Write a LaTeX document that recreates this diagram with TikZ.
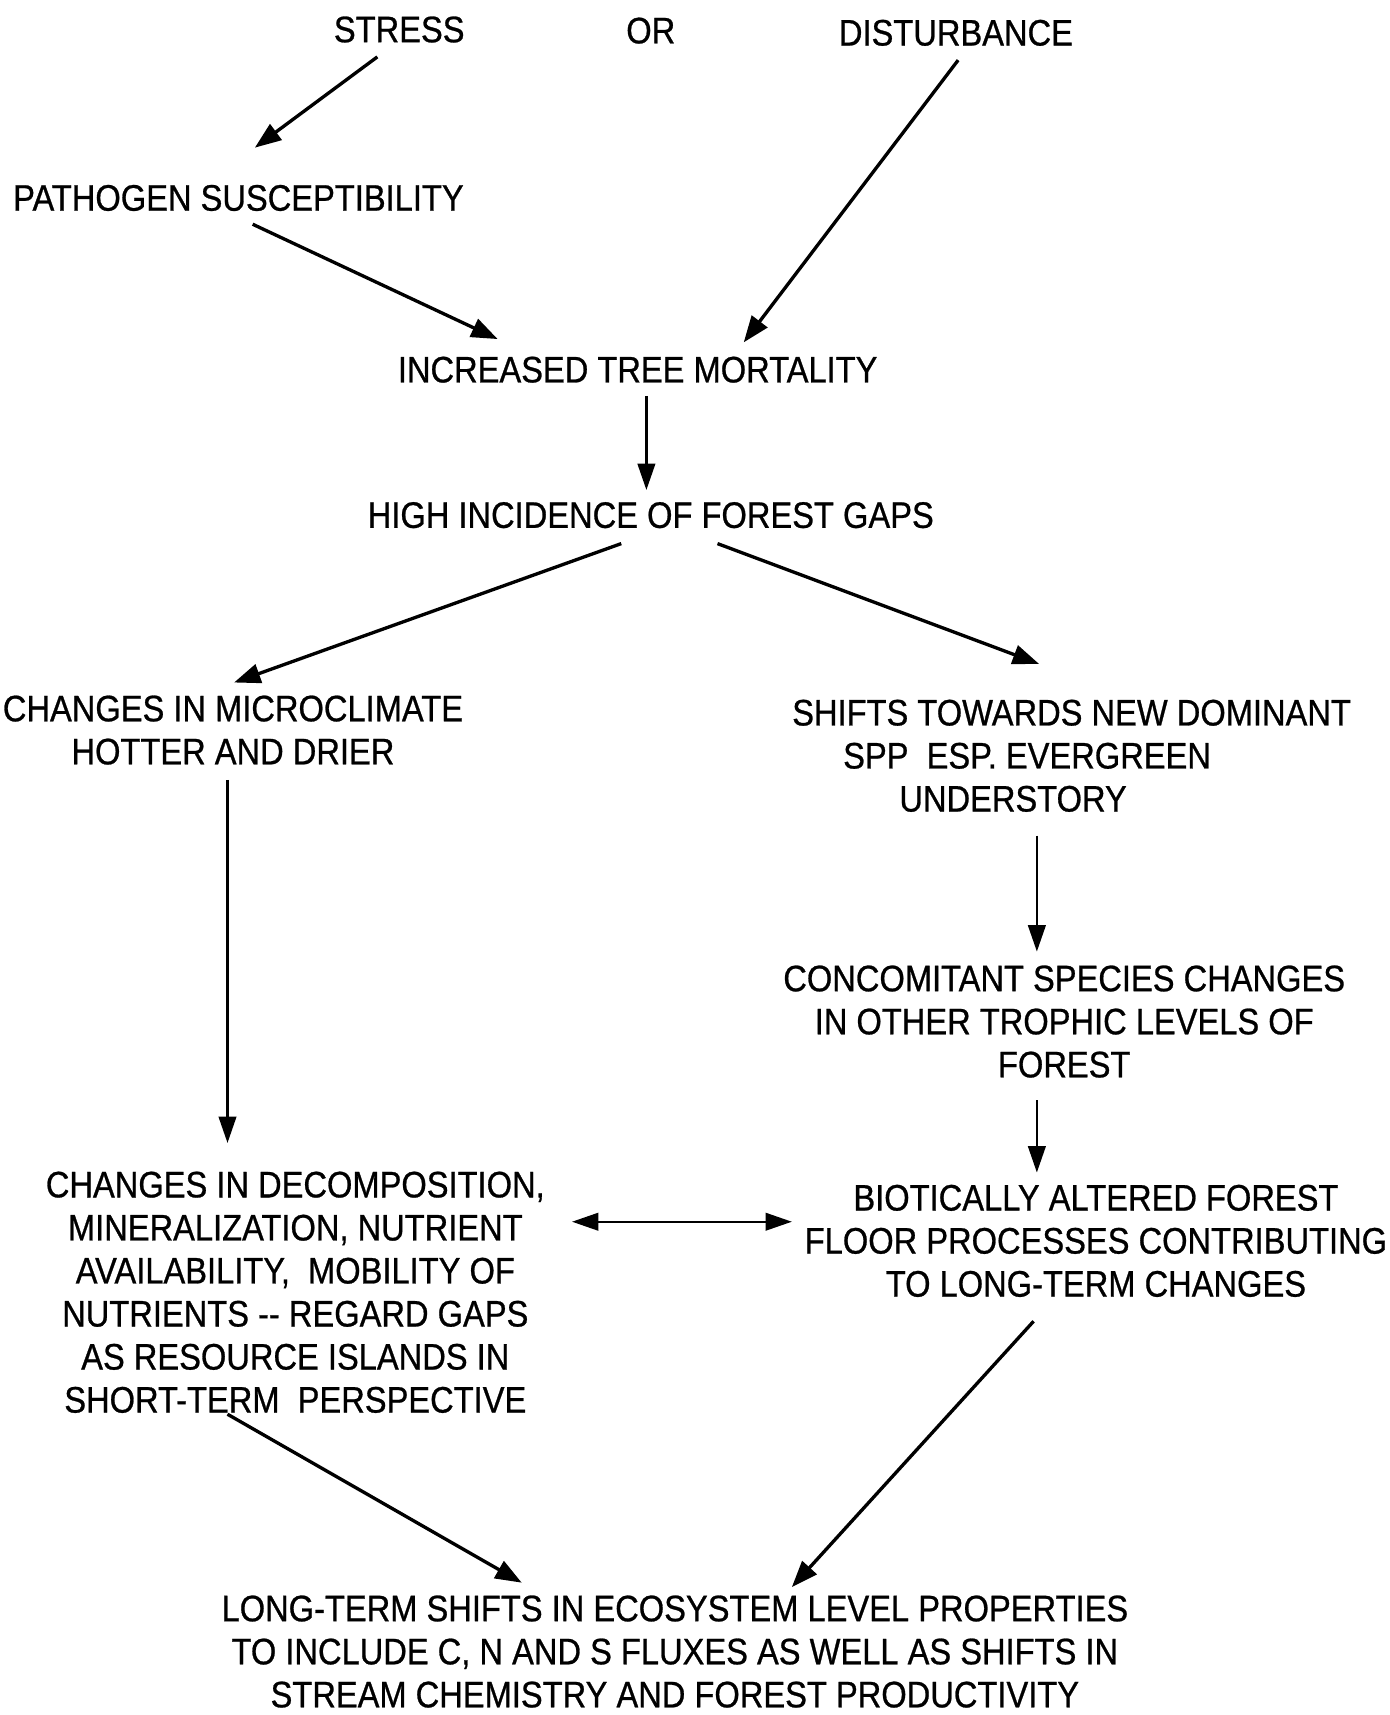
\documentclass[tikz,border=0pt]{standalone}
\usepackage{fontspec}
\setmainfont{Liberation Sans}[FakeStretch=0.885, FakeBold=0.7]
\usetikzlibrary{arrows.meta,calc}
\begin{document}
\begin{tikzpicture}[x=0.021874cm,y=-0.021874cm,
  lbl/.style={inner sep=0pt, font=\fontsize{21}{24.5}\selectfont, align=center},
  arr/.style={-{Triangle[length=15pt,width=11pt]}, line width=1.9pt},
  varr/.style={-{Triangle[length=15pt,width=10pt]}, line width=1.3pt},
  darr/.style={{Triangle[length=15pt,width=10pt]}-{Triangle[length=15pt,width=10pt]}, line width=1.3pt}]
\useasboundingbox (0,0) rectangle (1270,1568);

\node[lbl] (stress) at (365,27) {STRESS};
\node[lbl] (or) at (595,28) {OR};
\node[lbl] (dist) at (874,30) {DISTURBANCE};
\node[lbl] (patho) at (218,181) {PATHOGEN SUSCEPTIBILITY};
\node[lbl] (mort) at (583,338) {INCREASED TREE MORTALITY};
\node[lbl] (gaps) at (595,471) {HIGH INCIDENCE OF FOREST GAPS};
\node[lbl] (micro) at (213,667.5) {CHANGES IN MICROCLIMATE\\HOTTER AND DRIER};
\node[lbl, align=left, anchor=west] (shifts) at (724,691) {SHIFTS TOWARDS NEW DOMINANT\\\hspace*{29pt}SPP\ \ ESP. EVERGREEN\\\hspace*{61pt}UNDERSTORY};
\node[lbl] (conc) at (973,934) {CONCOMITANT SPECIES CHANGES\\IN OTHER TROPHIC LEVELS OF\\FOREST};
\node[lbl] (decomp) at (270,1181.5) {CHANGES IN DECOMPOSITION,\\MINERALIZATION, NUTRIENT\\AVAILABILITY,\ \ MOBILITY OF\\NUTRIENTS -{}- REGARD GAPS\\AS RESOURCE ISLANDS IN\\SHORT-TERM\ \ PERSPECTIVE};
\node[lbl] (biotic) at (1002,1134.5) {BIOTICALLY ALTERED FOREST\\FLOOR PROCESSES CONTRIBUTING\\TO LONG-TERM CHANGES};
\node[lbl] (long) at (617,1510) {LONG-TERM SHIFTS IN ECOSYSTEM LEVEL PROPERTIES\\TO INCLUDE C, N AND S FLUXES AS WELL AS SHIFTS IN\\STREAM CHEMISTRY AND FOREST PRODUCTIVITY};

\draw[arr] ($(stress)+(-20,25)$) -- ($(patho)+(15,-46)$);
\draw[arr] ($(dist)+(2,25)$) -- ($(mort)+(97,-25)$);
\draw[arr] ($(patho)+(13,24)$) -- ($(mort)+(-128,-28)$);
\draw[varr] ($(mort)+(8,24)$) -- ($(gaps)+(-4,-23)$);
\draw[arr] ($(gaps)+(-27,26)$) -- ($(micro)+(1,-43.5)$);
\draw[arr] ($(gaps)+(61,26)$) -- ($(shifts.west)+(226,-84)$);
\draw[varr] ($(micro)+(-5,45.5)$) -- ($(decomp)+(-62,-136.5)$);
\draw[varr] ($(shifts.west)+(224,73)$) -- ($(conc)+(-25,-64)$);
\draw[varr] ($(conc)+(-25,72)$) -- ($(biotic)+(-54,-62.5)$);
\draw[darr] ($(decomp)+(253,-64.5)$) -- ($(biotic)+(-278,-17.5)$);
\draw[arr] ($(decomp)+(-62,111.5)$) -- ($(long)+(-140,-63)$);
\draw[arr] ($(biotic)+(-57,73.5)$) -- ($(long)+(107,-59)$);
\end{tikzpicture}
\end{document}
